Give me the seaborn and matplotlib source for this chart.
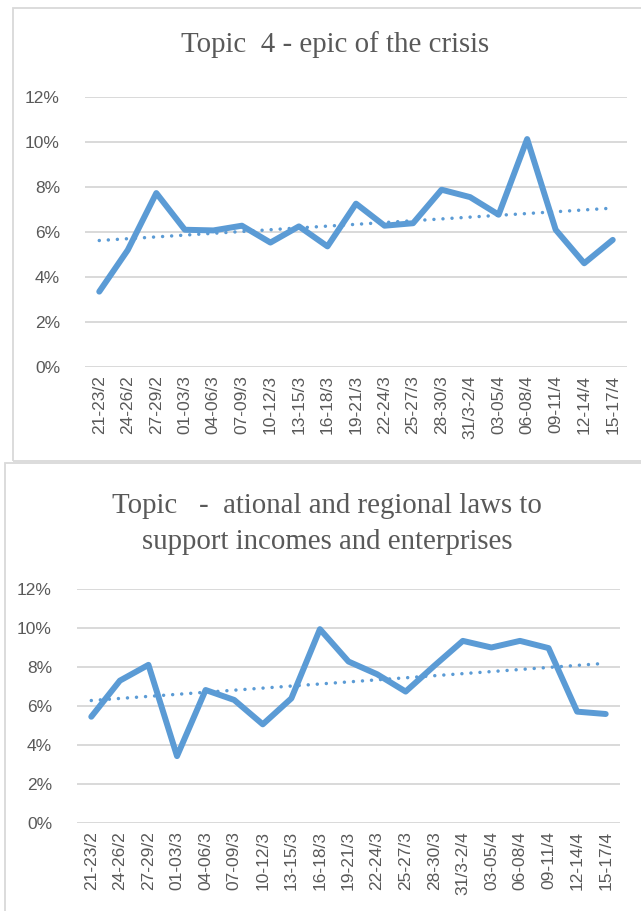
import numpy as np
import pandas as pd
import matplotlib
matplotlib.use("Agg")
import matplotlib.pyplot as plt
from matplotlib.patches import Rectangle
from matplotlib.ticker import FuncFormatter, MultipleLocator
import seaborn as sns

periods = ["21-23/2", "24-26/2", "27-29/2", "01-03/3", "04-06/3", "07-09/3",
           "10-12/3", "13-15/3", "16-18/3", "19-21/3", "22-24/3", "25-27/3",
           "28-30/3", "31/3-2/4", "03-05/4", "06-08/4", "09-11/4", "12-14/4",
           "15-17/4"]
topic4 = [3.35, 5.2, 7.73, 6.1, 6.07, 6.28, 5.53, 6.25, 5.36, 7.26, 6.28,
          6.39, 7.88, 7.55, 6.77, 10.13, 6.1, 4.61, 5.65]
laws = [5.45, 7.3, 8.11, 3.43, 6.82, 6.31, 5.06, 6.39, 9.94, 8.28, 7.63,
        6.74, 8.06, 9.34, 9.0, 9.34, 8.97, 5.71, 5.59]
title_top = "Topic  4 - epic of the crisis"
title_bottom = "Topic   -  ational and regional laws to\nsupport incomes and enterprises"

BLUE = "#5B9BD5"
GREY_TXT = "#595959"
GRID = "#D9D9D9"

sns.set_theme(style="white")
plt.rcParams['font.family'] = ['Liberation Sans', 'DejaVu Sans']

W, H = 641, 911
fig = plt.figure(figsize=(W / 100, H / 100), dpi=100)


def px_axes(left, right, top, bottom):
    return fig.add_axes([left / W, 1 - bottom / H, (right - left) / W, (bottom - top) / H])


def box(left, top, right, bottom):
    fig.patches.append(Rectangle((left / W, 1 - bottom / H), (right - left) / W,
                                 (bottom - top) / H, transform=fig.transFigure,
                                 fill=False, edgecolor=GRID, lw=1.3, zorder=0))


def draw(ax, values):
    df = pd.DataFrame({"x": np.arange(len(periods)), "y": np.array(values) / 100})
    # linear trend, dotted
    sns.regplot(data=df, x="x", y="y", ax=ax, scatter=False, ci=None, truncate=True,
                line_kws=dict(color=BLUE, lw=2.5, ls=(0, (0.01, 2.6)),
                              dash_capstyle="round", zorder=3))
    sns.lineplot(data=df, x="x", y="y", ax=ax, color=BLUE, lw=4.3,
                 solid_joinstyle="round", solid_capstyle="round", zorder=4)
    ax.set_xlim(-0.5, len(periods) - 0.5)
    ax.set_ylim(0, 0.12)
    ax.yaxis.set_major_locator(MultipleLocator(0.02))
    ax.yaxis.set_major_formatter(FuncFormatter(lambda v, p: f"{v * 100:.0f}%"))
    ax.set_xticks(np.arange(len(periods)))
    ax.set_xticklabels(periods, rotation=90)
    ax.tick_params(axis="both", length=0, labelsize=12.5, labelcolor=GREY_TXT)
    ax.tick_params(axis="y", pad=18)
    ax.tick_params(axis="x", pad=6)
    ax.set_xlabel("")
    ax.set_ylabel("")
    ax.grid(axis="y", color=GRID, lw=1.4)
    ax.grid(axis="x", visible=False)
    for s in ax.spines.values():
        s.set_visible(False)
    ax.set_facecolor("none")


box(13, 8, 650, 461)
box(5, 463, 650, 920)

ax1 = px_axes(85, 627, 97, 367)
draw(ax1, topic4)
ax2 = px_axes(77, 620, 589, 823)
draw(ax2, laws)

fig.text(335 / W, 1 - 45 / H, title_top, ha="center", va="center",
         fontsize=20.8, color=GREY_TXT, family=["Liberation Serif", "DejaVu Serif"])
fig.text(327 / W, 1 - 524 / H, title_bottom, ha="center", va="center",
         multialignment="center", linespacing=1.52,
         fontsize=20.8, color=GREY_TXT, family=["Liberation Serif", "DejaVu Serif"])

fig.savefig("out.png", dpi=100)
